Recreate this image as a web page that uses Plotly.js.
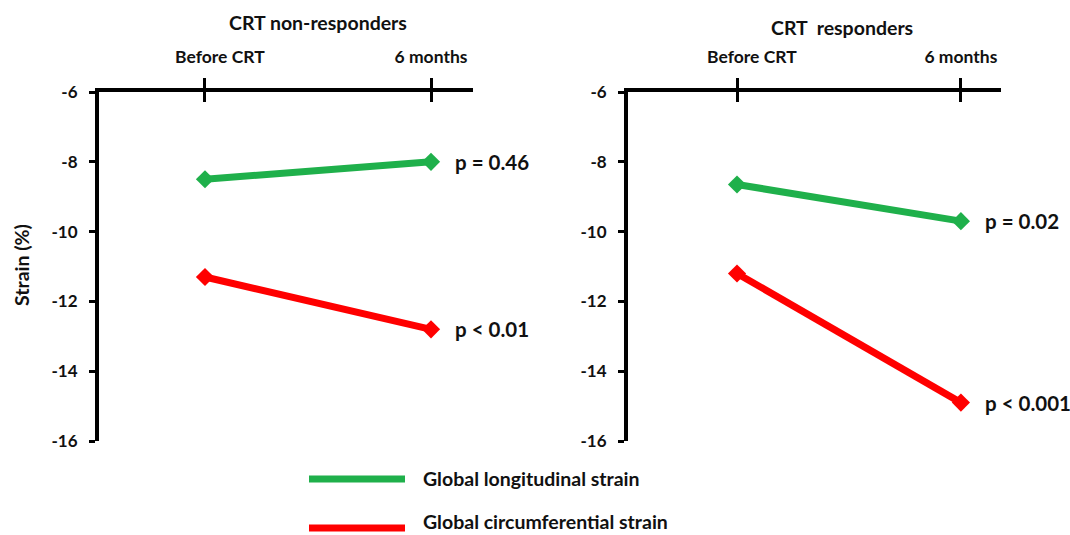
<!DOCTYPE html>
<html>
<head>
<meta charset="utf-8">
<script src="https://cdn.plot.ly/plotly-3.0.1.min.js"></script>
<style>html,body{margin:0;padding:0;background:#fff;}#chart{width:1070px;height:535px;}</style>
</head>
<body>
<div id="chart"></div>
<script>
// ---- data ----
const timepoints = ["Before CRT", "6 months"];
const panelTitles = ["CRT non-responders", "CRT  responders"];
const seriesNames = ["Global longitudinal strain", "Global circumferential strain"];
const nonRespGLS = [-8.5, -8.0];
const nonRespGCS = [-11.3, -12.8];
const respGLS = [-8.65, -9.7];
const respGCS = [-11.2, -14.9];
const nonRespP = ["p = 0.46", "p < 0.01"];
const respP = ["p = 0.02", "p < 0.001"];
const yTickVals = [-6, -8, -10, -12, -14, -16];
const yAxisTitle = "Strain (%)";

// ---- styles ----
const GREEN = "#1fb04b";
const RED = "#ff0000";
const FONT = "Lato, 'Open Sans', sans-serif";
const TXT = "#111111";

function series(x, y, color, xa, ya, name) {
  return {
    x: x, y: y, xaxis: xa, yaxis: ya, type: "scatter", mode: "lines+markers",
    name: name, showlegend: false, cliponaxis: false, hoverinfo: "skip",
    line: {color: color, width: 7},
    marker: {symbol: "diamond", size: 14, color: color}
  };
}
function tickHolder(xa, ya) {
  // empty trace so the overlay axis carrying the inner half of the tick marks is drawn
  return {x: timepoints, y: [null, null], xaxis: xa, yaxis: ya, type: "scatter",
    mode: "markers", showlegend: false, hoverinfo: "skip"};
}

const traces = [
  series(timepoints, nonRespGLS, GREEN, "x", "y", seriesNames[0]),
  series(timepoints, nonRespGCS, RED, "x", "y", seriesNames[1]),
  series(timepoints, respGLS, GREEN, "x2", "y2", seriesNames[0]),
  series(timepoints, respGCS, RED, "x2", "y2", seriesNames[1]),
  tickHolder("x3", "y"),
  tickHolder("x4", "y2")
];

const pad = "\u00a0".repeat(7);
const tickText = [pad + timepoints[0], timepoints[1]];

function xAxis(domain, range, anchor, overlay) {
  const ax = {
    domain: domain, range: range, type: "category", side: "top", anchor: anchor,
    tickmode: "array", tickvals: timepoints, ticktext: tickText,
    showgrid: false, zeroline: false, fixedrange: true
  };
  if (overlay) {
    Object.assign(ax, {overlaying: overlay, ticks: "inside", ticklen: 10, tickwidth: 3,
      tickcolor: "#000", showticklabels: false, showline: false});
  } else {
    Object.assign(ax, {ticks: "outside", ticklen: 10, tickwidth: 3, tickcolor: "#000",
      showline: true, linewidth: 4, linecolor: "#000", ticklabelstandoff: 8,
      tickfont: {family: FONT, size: 17.5, color: TXT, weight: "bold"}});
  }
  return ax;
}

function yAxis(anchor) {
  return {
    domain: [0.1757, 0.828], range: [-16, -6], anchor: anchor, side: "left",
    tickmode: "array", tickvals: yTickVals, ticktext: yTickVals.map(String),
    ticks: "outside", ticklen: 6, tickwidth: 3,
    tickcolor: "#000", showline: true, linewidth: 4, linecolor: "#000",
    showgrid: false, zeroline: false, fixedrange: true, ticklabelstandoff: 8,
    tickfont: {family: FONT, size: 17, color: TXT, weight: "bold"}
  };
}

const leftDom = [0.0925, 0.4421];
const rightDom = [0.5869, 0.9355];
const leftRange = [-0.469, 1.186];
const rightRange = [-0.487, 1.179];

const annFont = (s) => ({family: FONT, size: s, color: TXT, weight: "bold"});
const annotations = [];
// panel titles
annotations.push({text: panelTitles[0], xref: "paper", yref: "paper", x: 318/1070, y: 1 - 22/535,
  showarrow: false, xanchor: "center", yanchor: "middle", font: annFont(19.5)});
annotations.push({text: panelTitles[1].replace("  ", "\u00a0 "), xref: "paper", yref: "paper", x: 842/1070, y: 1 - 27/535,
  showarrow: false, xanchor: "center", yanchor: "middle", font: annFont(19.5)});
// y title
annotations.push({text: yAxisTitle, xref: "paper", yref: "paper", x: 22/1070, y: 1 - 265/535,
  textangle: -90, showarrow: false, xanchor: "center", yanchor: "middle", font: annFont(19.5)});
// p-values
const pSets = [["x", "y", nonRespGLS, nonRespP[0]], ["x", "y", nonRespGCS, nonRespP[1]],
               ["x2", "y2", respGLS, respP[0]], ["x2", "y2", respGCS, respP[1]]];
pSets.forEach(([xa, ya, vals, txt]) => {
  annotations.push({text: txt, xref: xa, yref: ya, x: timepoints[1], y: vals[1],
    xshift: 22, showarrow: false, xanchor: "left", yanchor: "middle", font: annFont(20.5)});
});
// legend
const legTextY = [1 - 478/535, 1 - 521/535];
const legLineY = [1 - 479/535, 1 - 528/535];
const legColors = [GREEN, RED];
const shapes = [];
seriesNames.forEach((nm, i) => {
  annotations.push({text: nm, xref: "paper", yref: "paper", x: 421/1070, y: legTextY[i],
    showarrow: false, xanchor: "left", yanchor: "middle", font: annFont(19.5)});
  shapes.push({type: "line", xref: "paper", yref: "paper", x0: 309/1070, x1: 405/1070,
    y0: legLineY[i], y1: legLineY[i], line: {color: legColors[i], width: 7}});
});

const layout = {
  width: 1070, height: 535, margin: {l: 0, r: 0, t: 0, b: 0},
  paper_bgcolor: "#fff", plot_bgcolor: "rgba(0,0,0,0)",
  font: {family: FONT, size: 17, color: TXT, weight: "bold"},
  showlegend: false,
  xaxis: xAxis(leftDom, leftRange, "y"),
  xaxis2: xAxis(rightDom, rightRange, "y2"),
  xaxis3: xAxis(leftDom, leftRange, "y", "x"),
  xaxis4: xAxis(rightDom, rightRange, "y2", "x2"),
  yaxis: yAxis("x"),
  yaxis2: yAxis("x2"),
  annotations: annotations,
  shapes: shapes
};

Plotly.newPlot("chart", traces, layout, {staticPlot: true, displayModeBar: false});
</script>
</body>
</html>
